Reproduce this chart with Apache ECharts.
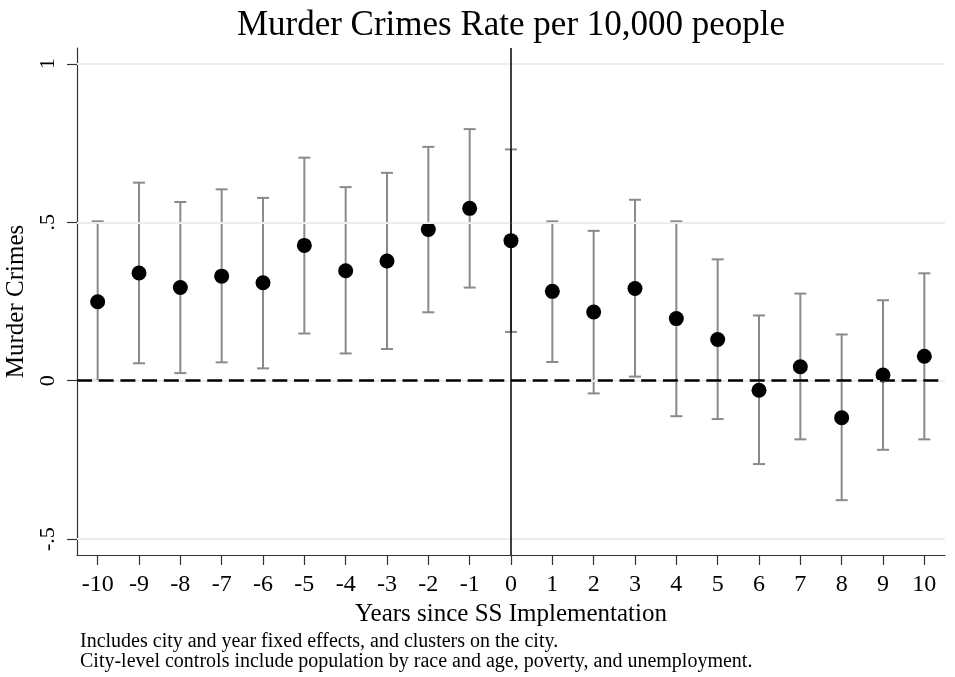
<!DOCTYPE html>
<html>
<head>
<meta charset="utf-8">
<script src="https://cdn.jsdelivr.net/npm/echarts@6/dist/echarts.min.js"></script>
<style>
  html, body { margin: 0; padding: 0; background: #fff; }
  #chart { width: 955px; height: 677px; }
</style>
</head>
<body>
<div id="chart"></div>
<script>
// Event-study coefficients with 95% confidence intervals
const years = ['-10','-9','-8','-7','-6','-5','-4','-3','-2','-1','0','1','2','3','4','5','6','7','8','9','10'];
const coef   = [0.249, 0.340, 0.294, 0.330, 0.309, 0.427, 0.347, 0.378, 0.477, 0.544, 0.442, 0.282, 0.217, 0.291, 0.196, 0.130, -0.030, 0.044, -0.117, 0.018, 0.077];
const ciLow  = [0.000, 0.055, 0.024, 0.058, 0.039, 0.149, 0.086, 0.100, 0.216, 0.294, 0.154, 0.059, -0.040, 0.013, -0.112, -0.121, -0.263, -0.185, -0.377, -0.218, -0.185];
const ciHigh = [0.503, 0.625, 0.564, 0.604, 0.577, 0.704, 0.611, 0.656, 0.738, 0.794, 0.730, 0.503, 0.473, 0.571, 0.503, 0.383, 0.206, 0.275, 0.146, 0.254, 0.339];
const yTicks = [-0.5, 0, 0.5, 1];
const gridValues = [-0.5, 0, 0.5, 1];
const notes = [
  'Includes city and year fixed effects, and clusters on the city.',
  'City-level controls include population by race and age, poverty, and unemployment.'
];

const SERIF = '"Liberation Serif", "Times New Roman", serif';

function fmtTick(v) {
  if (v === 0) return '0';
  if (v === 1) return '1';
  return String(v).replace('0.', '.');
}

const chart = echarts.init(document.getElementById('chart'), null, { renderer: 'canvas' });

const option = {
  backgroundColor: '#fff',
  animation: false,
  title: {
    text: 'Murder Crimes Rate per 10,000 people',
    left: 506,
    top: 3,
    textAlign: 'center',
    textStyle: { fontFamily: SERIF, fontSize: 35, fontWeight: 'normal', color: '#000' }
  },
  grid: { left: 77, right: 10, top: 48, bottom: 122, containLabel: false, outerBoundsMode: 'none' },
  xAxis: {
    type: 'category',
    data: years,
    boundaryGap: true,
    name: 'Years since SS Implementation',
    nameLocation: 'middle',
    nameGap: 38,
    nameTextStyle: { fontFamily: SERIF, fontSize: 25, color: '#000', verticalAlign: 'top' },
    axisLine: { onZero: false, lineStyle: { color: '#333', width: 1.2 } },
    axisTick: { show: true, alignWithLabel: true, length: 10, lineStyle: { color: '#333', width: 1.2 } },
    axisLabel: { fontFamily: SERIF, fontSize: 24, color: '#000', margin: 18, interval: 0 },
    splitLine: { show: false }
  },
  yAxis: {
    type: 'value',
    min: -0.55,
    max: 1.05,
    name: 'Murder Crimes',
    nameLocation: 'middle',
    nameGap: 41,
    nameRotate: 90,
    nameTextStyle: { fontFamily: SERIF, fontSize: 25, color: '#000' },
    axisLine: { show: true, onZero: false, lineStyle: { color: '#333', width: 1.2 } },
    axisTick: { show: true, length: 10, customValues: yTicks, lineStyle: { color: '#333', width: 1.2 } },
    axisLabel: {
      fontFamily: SERIF, fontSize: 22, color: '#000', rotate: 90, margin: 18,
      customValues: yTicks,
      formatter: fmtTick
    },
    splitLine: { show: false }
  },
  graphic: notes.map((t, i) => ({
    type: 'text',
    left: 80,
    top: 632 + i * 19.5,
    style: { text: t, fontFamily: SERIF, fontSize: 20, fill: '#000' }
  })),
  series: [
    {
      // horizontal gridlines and the implementation-year marker
      type: 'line',
      data: [],
      silent: true,
      z: 1,
      markLine: {
        silent: true,
        symbol: ['none', 'none'],
        label: { show: false },
        data: gridValues.map(v => ({ yAxis: v, lineStyle: { color: '#e9eef2', width: 2, type: 'solid' } }))
          .concat([{ xAxis: '0', lineStyle: { color: '#000', width: 1.5, type: 'solid' } }])
      }
    },
    {
      // confidence intervals with caps
      type: 'custom',
      z: 2,
      data: years.map((y, i) => [i, ciLow[i], ciHigh[i]]),
      encode: { x: 0, y: [1, 2] },
      renderItem: function (params, api) {
        const idx = api.value(0);
        const lo = api.coord([idx, api.value(1)]);
        const hi = api.coord([idx, api.value(2)]);
        const half = 6;
        const style = { stroke: '#8a8a8a', lineWidth: 2, fill: null };
        return {
          type: 'group',
          children: [
            { type: 'line', shape: { x1: lo[0], y1: lo[1], x2: hi[0], y2: hi[1] }, style: style },
            { type: 'line', shape: { x1: lo[0] - half, y1: lo[1], x2: lo[0] + half, y2: lo[1] }, style: style },
            { type: 'line', shape: { x1: hi[0] - half, y1: hi[1], x2: hi[0] + half, y2: hi[1] }, style: style }
          ]
        };
      }
    },
    {
      // zero reference line
      type: 'line',
      data: [],
      silent: true,
      z: 3,
      markLine: {
        silent: true,
        symbol: ['none', 'none'],
        label: { show: false },
        data: [{ yAxis: 0, lineStyle: { color: '#000', width: 2.5, type: [15, 6.7] } }]
      }
    },
    {
      // point estimates
      type: 'scatter',
      z: 4,
      data: coef.map((v, i) => [i, v]),
      symbol: 'circle',
      symbolSize: 15,
      itemStyle: { color: '#000', opacity: 1 }
    }
  ]
};

chart.setOption(option);
</script>
</body>
</html>
